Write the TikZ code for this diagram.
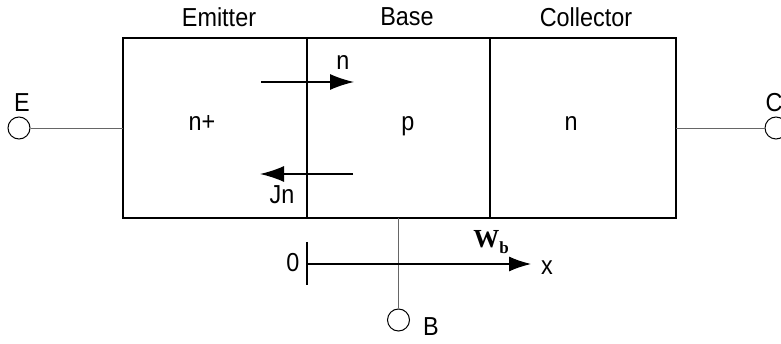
\documentclass[tikz,border=0pt]{standalone}
\usepackage{fontspec}
\setmainfont{Liberation Sans}[FakeStretch=0.9]
\newfontfamily\wbfont{Liberation Serif}
\usetikzlibrary{arrows.meta,positioning}

\begin{document}
\begin{tikzpicture}[
    x=1pt, y=-1pt, font=\fontsize{26}{30}\selectfont,
    >={Latex[length=24pt, width=16pt]},
    region/.style={draw=black, line width=1.7pt, minimum height=180pt,
      inner sep=0pt, outer sep=0pt},
    doping/.style={inner sep=0pt, text height=0.53em, text depth=0.21em},
    term/.style={circle, draw=black, line width=1pt, fill=white,
      minimum size=22pt, inner sep=0pt},
    wire/.style={draw=black!60, line width=0.9pt},
    flux/.style={->, line width=1.4pt},
    axisline/.style={->, line width=1.1pt}]

  \clip (0,0) rectangle (781,344);

  % ---- the three regions ----
  \node[region, minimum width=184pt] (emit) at (215,128) {};
  \node[region, minimum width=183pt, right=0pt of emit] (base) {};
  \node[region, minimum width=186pt, right=0pt of base] (coll) {};
  \node[doping] (nplus) at (202,129) {n+};
  \node[doping] (pdop) at (408,129) {p};
  \node[doping] (ndop) at (571,129) {n};

  % ---- region names ----
  \node (emitlbl) at (219,17) {Emitter};
  \node (baselbl) at (407,17) {Base};
  \node (colllbl) at (586,17) {Collector};

  % ---- terminals and leads ----
  \node[term] (E) at (19,128) {};
  \node[term] (C) at (776,128) {};
  \node[term] (B) at (398.5,320) {};
  \node (Elbl) at (22,103) {E};
  \node (Clbl) at (774,103) {C};
  \node (Blbl) at (431,327) {B};
  \draw[wire] (E) -- (emit);
  \draw[wire] (coll) -- (C);
  \draw[wire] (base) -- (B);

  % ---- electron flow and current ----
  \coordinate (nfrom) at (261,82);
  \coordinate (nto) at (354,82);
  \draw[flux] (nfrom) -- (nto);
  \node (nlbl) at (343,63) {n};
  \coordinate (jfrom) at (353,174);
  \coordinate (jto) at (260,174);
  \draw[flux] (jfrom) -- (jto);
  \node (jlbl) at (282,195) {Jn};

  % ---- position axis ----
  \coordinate (origin) at (307,264);
  \coordinate (xend) at (531,264);
  \draw[line width=2pt] ([yshift=22pt]origin) -- ([yshift=-21pt]origin);
  \draw[axisline, >={Latex[length=22pt, width=15pt]}] (origin) -- (xend);
  \node (zero) at (293,263) {0};
  \node (xlbl) at (547,268) {x};
  \node (wb) at (491,242)
    {\wbfont\bfseries W\raisebox{-0.22em}{\fontsize{17}{17}\selectfont b}};
\end{tikzpicture}
\end{document}
